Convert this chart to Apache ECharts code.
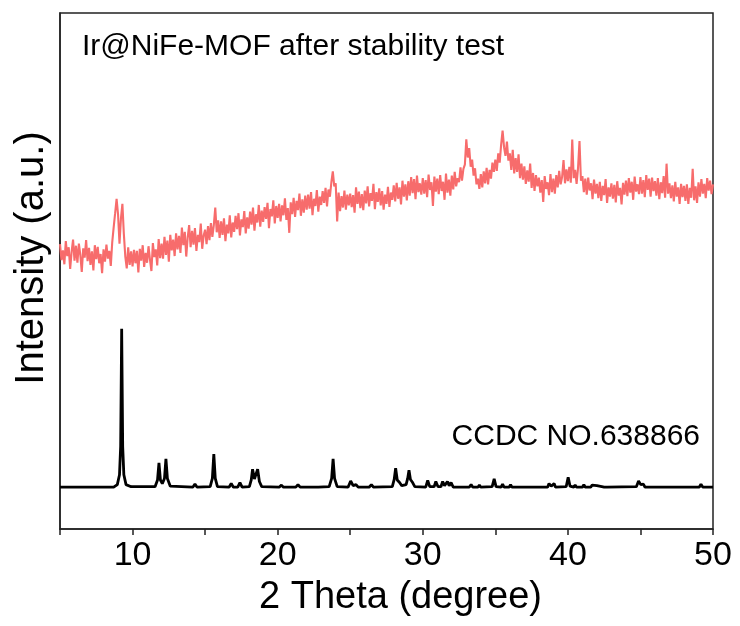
<!DOCTYPE html>
<html>
<head>
<meta charset="utf-8">
<script src="https://cdn.jsdelivr.net/npm/echarts@6/dist/echarts.min.js"></script>
<style>
html,body{margin:0;padding:0;background:#fff;}
#chart{width:740px;height:626px;}
</style>
</head>
<body>
<div id="chart"></div>
<script>
// ---- data ----
var xTickLabels = ['10', '20', '30', '40', '50'];
var sampleLabel = 'Ir@NiFe-MOF after stability test';
var refLabel = 'CCDC NO.638866';

// measured pattern (sampled every 0.1 deg from 5.0 to 50.0)
var redStart = 5.0;
var redStep = 0.1;
var redY = [
  55.2, 52.1, 54.0, 51.3, 55.8, 52.9, 54.6, 50.4, 53.7, 56.1,
  52.0, 54.9, 51.6, 55.3, 53.1, 49.8, 54.4, 52.6, 56.0, 51.9,
  54.5, 51.2, 53.8, 50.1, 55.0, 52.3, 54.7, 51.5, 53.3, 49.6,
  54.2, 51.8, 55.1, 52.4, 53.9, 51.0, 55.6, 58.5, 61.2, 64.0,
  61.0, 55.3, 60.2, 63.0, 57.2, 52.8, 50.5, 54.6, 51.2, 53.8,
  50.9, 54.1, 51.5, 53.9, 49.7, 54.3, 52.0, 55.0, 50.8, 53.5,
  51.6, 54.8, 52.2, 50.0, 55.4, 52.7, 54.2, 51.1, 56.2, 52.5,
  55.3, 52.4, 56.6, 53.1, 55.9, 51.8, 57.0, 54.0, 56.1, 52.9,
  57.3, 54.2, 56.8, 53.5, 58.4, 55.0, 57.6, 52.8, 56.5, 58.9,
  54.6, 57.8, 55.1, 58.3, 53.9, 57.0, 55.6, 59.2, 54.3, 56.9,
  58.0, 55.2, 58.7, 56.0, 59.3, 56.6, 58.9, 62.3, 57.5, 59.8,
  56.4, 59.6, 57.0, 60.2, 55.8, 59.0, 57.3, 60.8, 56.5, 59.4,
  57.6, 60.7, 58.1, 61.2, 56.9, 60.0, 58.5, 61.6, 57.3, 60.4,
  58.2, 61.5, 59.0, 62.3, 57.8, 61.0, 59.4, 62.8, 58.6, 61.7,
  59.5, 62.4, 60.1, 63.2, 58.3, 62.0, 60.6, 63.7, 59.2, 62.6,
  60.3, 63.0, 59.6, 62.7, 60.8, 64.1, 59.9, 62.2, 57.4, 63.3,
  61.0, 64.2, 60.5, 63.6, 61.8, 65.0, 60.7, 63.9, 61.3, 64.6,
  61.9, 64.8, 62.1, 65.3, 60.8, 64.0, 62.6, 65.7, 61.5, 64.4,
  62.8, 65.5, 63.2, 66.1, 62.5, 65.8, 64.4, 67.2, 69.3, 66.4,
  67.0, 59.6, 65.2, 61.6, 64.5, 62.3, 65.6, 61.9, 64.8, 62.7,
  65.0, 62.4, 64.7, 61.3, 66.2, 63.0, 65.4, 62.2, 64.9, 61.8,
  65.6, 63.1, 66.4, 62.5, 65.1, 63.6, 66.9, 62.0, 65.3, 63.4,
  66.0, 62.7, 65.5, 61.9, 64.8, 63.0, 66.3, 62.4, 65.2, 63.8,
  66.6, 63.5, 67.1, 64.0, 66.2, 62.9, 67.5, 64.4, 66.8, 63.7,
  67.4, 64.6, 68.2, 65.1, 67.8, 63.9, 68.5, 65.3, 67.0, 64.8,
  68.0, 65.0, 67.6, 64.3, 68.7, 65.7, 67.2, 62.6, 68.3, 65.4,
  67.9, 64.9, 68.6, 65.5, 67.3, 63.8, 68.9, 65.2, 67.7, 64.6,
  68.5, 65.8, 69.2, 66.4, 68.0, 67.2, 70.1, 67.5, 69.8, 70.6,
  75.5, 72.0, 73.8, 70.2, 71.6, 68.5, 69.9, 66.8, 67.9, 65.9,
  68.8, 66.2, 69.3, 67.0, 70.0, 66.8, 69.6, 67.9, 71.0, 69.2,
  71.6, 69.4, 72.8, 71.0, 74.5, 77.2, 74.0, 72.3, 75.1, 71.4,
  72.8, 69.6, 73.5, 68.9, 71.9, 69.2, 72.6, 68.0, 70.8, 67.7,
  70.3, 66.9, 69.5, 67.3, 70.8, 66.1, 69.0, 65.5, 68.6, 66.4,
  68.1, 65.2, 67.6, 63.4, 68.4, 65.9, 67.2, 64.7, 68.8, 65.3,
  67.9, 65.0, 68.6, 66.2, 69.4, 66.8, 68.2, 71.5, 67.0, 69.7,
  67.4, 70.2, 67.1, 75.5, 68.0, 69.6, 66.9, 70.0, 75.2, 67.5,
  68.4, 65.3, 67.9, 64.8, 68.1, 65.6, 67.0, 63.9, 67.7, 65.0,
  66.9, 64.1, 67.3, 63.6, 66.5, 64.7, 67.8, 63.2, 66.2, 64.4,
  67.0, 64.0, 66.7, 63.3, 67.4, 64.6, 66.1, 62.9, 67.1, 64.8,
  67.5, 64.5, 68.0, 65.2, 67.3, 63.8, 68.3, 65.4, 66.8, 64.9,
  68.2, 65.0, 67.6, 64.3, 68.6, 65.7, 67.9, 64.4, 68.1, 65.5,
  67.4, 64.6, 68.0, 63.9, 67.2, 65.1, 68.4, 64.2, 70.8, 65.0,
  67.0, 64.1, 66.6, 63.5, 67.3, 64.4, 66.2, 63.0, 66.9, 64.3,
  66.5, 63.6, 66.8, 63.0, 66.1, 64.2, 69.8, 63.7, 66.4, 63.2,
  67.2, 64.4, 67.8, 65.0, 66.9, 64.1, 68.0, 65.6, 67.5, 64.9,
  66.8
];

// simulated reference pattern: [2theta, intensity]
var refPattern = [
  [5, 8.1], [8.7, 8.1], [8.95, 8.6], [9.1, 10.5], [9.18, 16], [9.25, 38.8], [9.32, 16], [9.4, 10.5], [9.55, 8.6], [9.9, 8.2],
  [11.55, 8.2], [11.72, 9.5], [11.82, 12.8], [11.92, 9.5], [12.05, 8.8], [12.2, 9.8], [12.30, 13.6], [12.4, 9.8], [12.6, 8.3],
  [14.15, 8.1], [14.3, 8.7], [14.45, 8.1],
  [15.35, 8.2], [15.5, 9.8], [15.6, 14.5], [15.7, 9.8], [15.85, 8.2],
  [16.65, 8.1], [16.8, 8.8], [16.95, 8.1], [17.25, 8.1], [17.4, 9.0], [17.55, 8.1],
  [18.05, 8.2], [18.18, 9.5], [18.27, 11.6], [18.4, 9.7], [18.48, 9.8], [18.62, 11.6], [18.74, 9.2], [18.9, 8.2],
  [20.1, 8.1], [20.26, 8.5], [20.4, 8.1], [21.25, 8.1], [21.4, 8.6], [21.55, 8.1], [22.55, 8.1], [22.67, 8.4], [22.8, 8.1],
  [23.55, 8.2], [23.72, 9.8], [23.82, 13.6], [23.92, 9.8], [24.1, 8.2],
  [24.85, 8.1], [25.03, 9.3], [25.2, 8.4], [25.4, 8.6], [25.55, 8.1],
  [26.3, 8.1], [26.46, 8.6], [26.6, 8.1],
  [27.9, 8.2], [28.03, 9.6], [28.13, 11.8], [28.24, 9.5], [28.4, 9.0], [28.55, 8.4], [28.85, 8.6], [28.96, 9.8], [29.05, 11.4], [29.15, 9.6], [29.3, 9.0], [29.45, 8.2],
  [30.2, 8.1], [30.34, 9.4], [30.48, 8.2], [30.78, 8.2], [30.9, 9.2], [31.05, 8.2], [31.25, 8.2], [31.37, 9.2], [31.5, 8.4], [31.7, 9.2], [31.82, 8.4], [31.95, 9.0], [32.1, 8.1],
  [33.2, 8.1], [33.33, 8.6], [33.45, 8.1], [33.8, 8.1], [33.9, 8.5], [34.0, 8.1],
  [34.78, 8.2], [34.92, 9.7], [35.05, 8.2], [35.4, 8.1], [35.5, 8.7], [35.6, 8.1],
  [35.95, 8.1], [36.05, 8.6], [36.15, 8.1], [36.65, 8.1], [36.74, 8.4], [36.85, 8.1], [37.1, 8.1], [37.2, 8.4], [37.3, 8.1],
  [38.6, 8.1], [38.7, 8.8], [38.85, 8.3], [39.05, 8.8], [39.15, 8.1],
  [39.88, 8.2], [40.02, 10.0], [40.15, 8.3], [40.4, 8.1], [40.5, 8.5], [40.6, 8.1], [41.0, 8.1], [41.1, 8.6], [41.2, 8.1],
  [41.57, 8.1], [41.67, 8.5], [41.8, 8.2], [42.0, 8.4], [42.1, 8.1], [42.5, 8.1], [42.6, 8.3], [42.7, 8.1],
  [44.72, 8.2], [44.87, 9.3], [45.02, 8.6], [45.2, 8.7], [45.32, 8.1], [45.68, 8.1], [45.76, 8.3], [45.85, 8.1],
  [47.5, 8.1], [47.6, 8.3], [47.7, 8.1], [48.55, 8.1], [48.65, 8.3], [48.75, 8.1], [49.05, 8.1], [49.17, 8.7], [49.3, 8.1], [50, 8.1]
];

// ---- build ----
var redData = redY.map(function (v, i) {
  return [Math.round((redStart + i * redStep) * 10) / 10, v];
});
var FONT = '"Liberation Sans", Arial, sans-serif';

var chart = echarts.init(document.getElementById('chart'), null, { renderer: 'canvas' });
chart.setOption({
  animation: false,
  backgroundColor: '#ffffff',
  grid: {
    left: 60, right: 27, top: 13, bottom: 97,
    show: true, borderColor: '#222', borderWidth: 1.5, backgroundColor: 'transparent'
  },
  xAxis: {
    type: 'value',
    min: 5, max: 50, interval: 5,
    name: '2 Theta (degree)',
    nameLocation: 'middle',
    nameGap: 50,
    nameTextStyle: { fontFamily: FONT, fontSize: 38, color: '#000', padding: [0, 0, 0, 28] },
    axisLine: { show: true, onZero: false, lineStyle: { color: '#222', width: 1.5 } },
    axisTick: { show: true, length: 6, lineStyle: { color: '#222', width: 1.5 } },
    axisLabel: {
      fontFamily: FONT, fontSize: 34, color: '#000', margin: 10,
      formatter: function (v) {
        var s = String(v);
        return xTickLabels.indexOf(s) >= 0 ? s : '';
      }
    },
    splitLine: { show: false }
  },
  yAxis: {
    type: 'value',
    min: 0, max: 100,
    name: 'Intensity (a.u.)',
    nameLocation: 'middle',
    nameGap: 8,
    nameTextStyle: { fontFamily: FONT, fontSize: 40, color: '#000', padding: [0, 0, 0, 26] },
    axisLine: { show: true, lineStyle: { color: '#222', width: 1.5 } },
    axisTick: { show: false },
    axisLabel: { show: false },
    splitLine: { show: false }
  },
  series: [
    {
      name: refLabel,
      type: 'line',
      data: refPattern,
      showSymbol: false,
      symbol: 'none',
      lineStyle: { color: '#000', width: 2.8 },
      z: 3
    },
    {
      name: sampleLabel,
      type: 'line',
      data: redData,
      showSymbol: false,
      symbol: 'none',
      lineStyle: { color: '#f76c6c', width: 2.1 },
      z: 2
    }
  ],
  graphic: [
    {
      type: 'text', left: 82, top: 32,
      style: { text: sampleLabel, font: '30px ' + FONT, fill: '#000' }
    },
    {
      type: 'text', right: 40, top: 422,
      style: { text: refLabel, font: '30px ' + FONT, fill: '#000' }
    }
  ]
});
</script>
</body>
</html>
